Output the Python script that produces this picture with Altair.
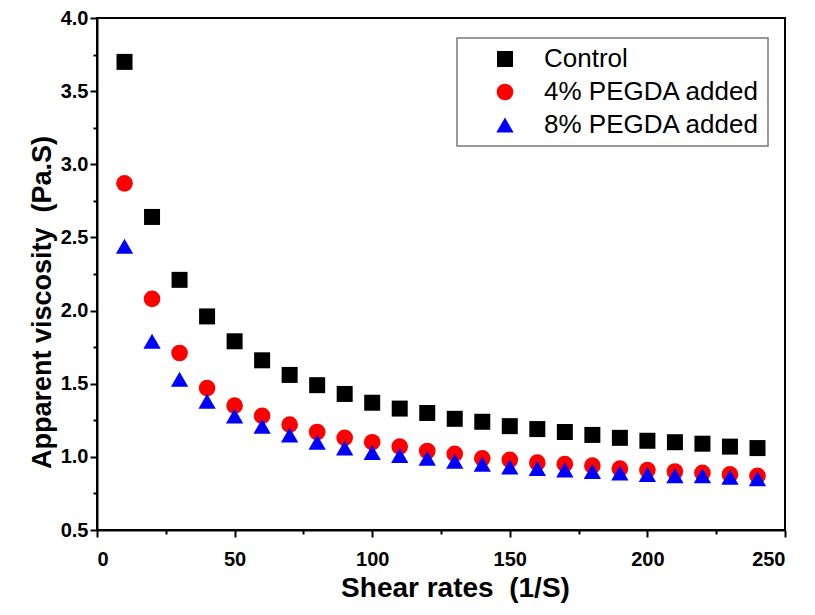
import altair as alt
import pandas as pd

shear = [10, 20, 30, 40, 50, 60, 70, 80, 90, 100, 110, 120, 130, 140, 150, 160, 170, 180, 190, 200, 210, 220, 230, 240]
control = [3.70, 2.64, 2.21, 1.96, 1.79, 1.66, 1.56, 1.49, 1.43, 1.37, 1.33, 1.30, 1.26, 1.24, 1.21, 1.19, 1.17, 1.15, 1.13, 1.11, 1.10, 1.09, 1.07, 1.06]
pegda4 = [2.87, 2.08, 1.71, 1.47, 1.35, 1.28, 1.22, 1.17, 1.13, 1.10, 1.07, 1.04, 1.02, 0.99, 0.98, 0.96, 0.95, 0.94, 0.92, 0.91, 0.90, 0.89, 0.88, 0.87]
pegda8 = [2.44, 1.79, 1.53, 1.38, 1.28, 1.21, 1.15, 1.10, 1.06, 1.03, 1.01, 0.99, 0.97, 0.95, 0.93, 0.92, 0.91, 0.90, 0.89, 0.88, 0.87, 0.87, 0.86, 0.85]
series = ["Control", "4% PEGDA added", "8% PEGDA added"]
colors = ["#000000", "#ff0000", "#0000ff"]
shapes = ["square", "circle", "triangle-up"]
sizes = [256, 300, 380]

rows = []
for name, vals in zip(series, [control, pegda4, pegda8]):
    for x, y in zip(shear, vals):
        rows.append({"shear": x, "visc": y, "series": name})
df = pd.DataFrame(rows)

xscale = alt.Scale(domain=[0, 250], nice=False, zero=False)
yscale = alt.Scale(domain=[0.5, 4.0], nice=False, zero=False)

common_axis = dict(domainColor="black", domainWidth=2, tickColor="black", tickWidth=2, grid=False)
FONT = "Liberation Sans"

legend = alt.Legend(title=None, orient="none", legendX=360, legendY=20,
                    labelFont=FONT, labelFontSize=26, labelColor="black",
                    symbolStrokeWidth=0, strokeColor="#777777",
                    padding=8, rowPadding=7, labelOffset=26, symbolOffset=27,
                    offset=0, symbolOpacity=1, labelLimit=400)

points = alt.Chart(df).mark_point(filled=True, opacity=1).encode(
    x=alt.X("shear:Q", scale=xscale,
            axis=alt.Axis(title="Shear rates \u00a0(1/S)", values=[0, 50, 100, 150, 200, 250],
                          format="d", tickSize=7, labelFont=FONT,
                          labelFontSize=20, labelFontWeight="bold", labelColor="black",
                          labelPadding=12, titleFont=FONT, titleFontSize=28,
                          titleFontWeight="bold", titleColor="black", titlePadding=5,
                          titleX=358, **common_axis)),
    y=alt.Y("visc:Q", scale=yscale,
            axis=alt.Axis(title="Apparent viscosity \u00a0(Pa.S)", values=[0.5, 1, 1.5, 2, 2.5, 3, 3.5, 4],
                          format=".1f", tickSize=7, labelFont=FONT,
                          labelFontSize=20, labelFontWeight="bold", labelColor="black",
                          labelPadding=2, titleFont=FONT, titleFontSize=27,
                          titleFontWeight="bold", titleColor="black", titlePadding=4,
                          titleY=284, **common_axis)),
    color=alt.Color("series:N", scale=alt.Scale(domain=series, range=colors), legend=legend),
    shape=alt.Shape("series:N", scale=alt.Scale(domain=series, range=shapes), legend=legend),
    size=alt.Size("series:N", scale=alt.Scale(domain=series, range=sizes), legend=legend),
)

minor = alt.Chart(df).mark_point(opacity=0).encode(
    x=alt.X("shear:Q", scale=xscale,
            axis=alt.Axis(title=None, values=[25, 75, 125, 175, 225], labels=False,
                          domain=False, tickSize=4, orient="bottom", tickColor="black",
                          tickWidth=2, grid=False)),
    y=alt.Y("visc:Q", scale=yscale,
            axis=alt.Axis(title=None, values=[0.75, 1.25, 1.75, 2.25, 2.75, 3.25, 3.75],
                          labels=False, domain=False, tickSize=4, orient="left",
                          tickColor="black", tickWidth=2, grid=False)),
)

chart = alt.layer(points, minor).resolve_axis(x="independent", y="independent").properties(
    width=688, height=512,
    autosize=alt.AutoSizeParams(type="none"),
    padding={"left": 89, "top": 10, "right": 20, "bottom": 85},
).configure_view(stroke="black", strokeWidth=2).configure_legend(strokeWidth=1.5)

chart.save("out.html", embed_options={"renderer": "svg", "actions": False})
